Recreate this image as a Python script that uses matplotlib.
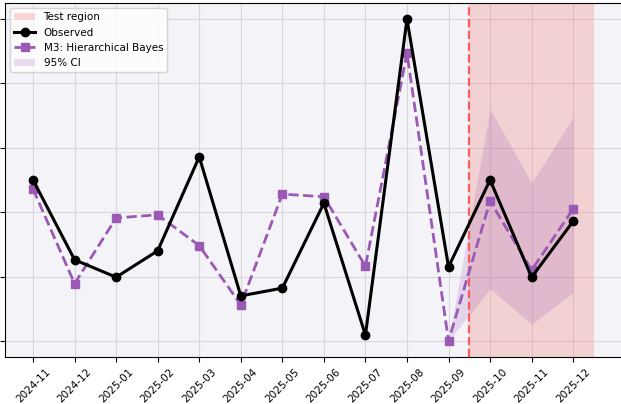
import matplotlib
matplotlib.use('Agg')
import matplotlib.pyplot as plt
import numpy as np

# Monthly data (y-axis labels are cropped in the reference, values in arbitrary units)
months = ['2024-11', '2024-12', '2025-01', '2025-02', '2025-03', '2025-04', '2025-05',
          '2025-06', '2025-07', '2025-08', '2025-09', '2025-10', '2025-11', '2025-12']
observed = [2.50, 1.26, 0.99, 1.40, 2.86, 0.70, 0.82, 2.14, 0.09, 5.00, 1.15, 2.50, 0.99, 1.86]
m3_pred = [2.36, 0.89, 1.91, 1.96, 1.48, 0.56, 2.28, 2.24, 1.16, 4.47, 0.00, 2.17, 1.10, 2.05]

# 95% CI only over the forecast part (starts at last training month)
ci_months = ['2025-09', '2025-10', '2025-11', '2025-12']
ci_lower = [0.00, 0.81, 0.26, 0.75]
ci_upper = [0.00, 3.60, 2.45, 3.48]

test_start = '2025-10'

x = np.arange(len(months))
ci_x = np.array([months.index(m) for m in ci_months])
split = months.index(test_start) - 0.5

fig = plt.figure(figsize=(6.21, 4.04), dpi=100)
ax = fig.add_axes([5 / 621, 47 / 404, 617 / 621, 354 / 404])
ax.set_facecolor('#f4f4f8')

ax.axvspan(split, x[-1] + 0.5, color='#f08080', alpha=0.3, label='Test region', lw=0)
ax.axvline(split, color='#ff4d4d', linestyle='--', linewidth=1.6, alpha=0.9)

ax.plot(x, observed, '-o', color='black', linewidth=2.2, markersize=6, label='Observed', zorder=4)
ax.plot(x, m3_pred, '--s', color='#9b59b6', linewidth=2, markersize=5.5,
        label='M3: Hierarchical Bayes', zorder=3)
ax.fill_between(ci_x, ci_lower, ci_upper, color='#9b59b6', alpha=0.2, label='95% CI', lw=0)

ax.set_xticks(x)
ax.set_xticklabels(months, rotation=45, fontsize=7.5)
ax.set_yticks(np.arange(0, 6))
ax.tick_params(axis='y', labelleft=False)
ax.set_ylim(-0.25, 5.25)
ax.grid(True, color='#d8d8d8', linewidth=0.8)
ax.set_axisbelow(True)

ax.legend(loc='upper left', fontsize=7.5, framealpha=0.8)

fig.savefig('out.png', dpi=100)
